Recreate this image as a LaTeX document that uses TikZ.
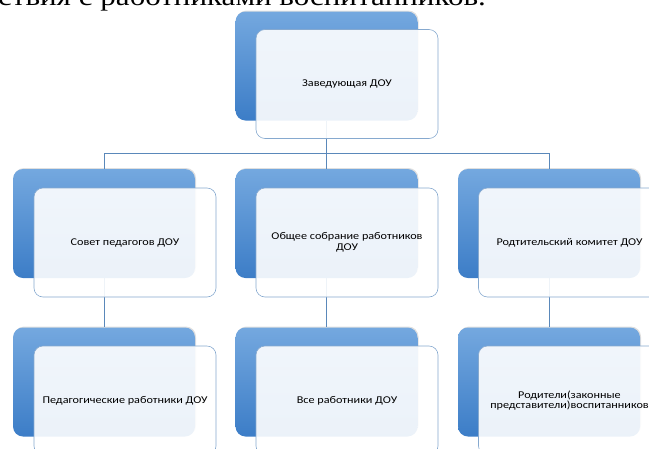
\documentclass[tikz,border=0pt]{standalone}
\usepackage{fontspec}
\setmainfont{Carlito}
\newfontfamily\boxfont[FakeStretch=1.17]{Carlito}
\newfontfamily\headfont[FakeStretch=1.17]{Liberation Serif}
\usepackage{tikz}
\usetikzlibrary{shapes,shadows}
\definecolor{boxtop}{HTML}{74A8DF}
\definecolor{boxbottom}{HTML}{3C7DC7}
\definecolor{cardline}{HTML}{86A9CF}
\definecolor{linkcolor}{HTML}{5A88BA}
\tikzstyle{box_back} = [rectangle, rounded corners=10pt, top color=boxtop, bottom color=boxbottom, draw=none, minimum width=182pt, minimum height=109pt, drop shadow={opacity=0.25, shadow xshift=1pt, shadow yshift=1pt}]
\tikzstyle{box_front} = [rectangle, rounded corners=9pt, fill=white, fill opacity=0.9, text opacity=1, draw=cardline, line width=0.6pt, minimum width=182pt, minimum height=109pt, align=center, font=\boxfont\fontsize{10.4}{10.5}\selectfont]
\tikzstyle{edge_link} = [draw=linkcolor, line width=0.7pt]

\begin{document}
\begin{tikzpicture}[x=1pt, y=-1pt]
		\useasboundingbox (0,0) rectangle (649,448);
		\node (heading) at (-2,5) [anchor=base west, inner sep=0pt, font=\headfont\fontsize{26.5}{30}\selectfont] {ствия с работниками воспитанников.};
		
		\node (zav) at (326.5,66) [box_back] {};
		\node (sovet) at (104,223.5) [box_back] {};
		\node (sobr) at (326.5,223.5) [box_back] {};
		\node (komitet) at (549,223.5) [box_back] {};
		\node (pedrab) at (104,382) [box_back] {};
		\node (vserab) at (326.5,382) [box_back] {};
		\node (roditeli) at (549,382) [box_back] {};
		
		\coordinate (bus) at (326.5,153.5);
		\draw[edge_link] (zav.south) -- (bus);
		\draw[edge_link] (sovet.north) |- (bus) -| (komitet.north);
		\draw[edge_link] (sobr.north) -- (bus);
		\draw[edge_link] (sovet.south) -- (pedrab.north);
		\draw[edge_link] (sobr.south) -- (vserab.north);
		\draw[edge_link] (komitet.south) -- (roditeli.north);
		
		\node (zavT) at (347,84) [box_front] {Заведующая ДОУ};
		\node (sovetT) at (125,242.5) [box_front] {Совет педагогов ДОУ};
		\node (sobrT) at (347,242.5) [box_front] {Общее собрание работников\\ДОУ};
		\node (komitetT) at (569.5,242.5) [box_front] {Родтительский комитет ДОУ};
		\node (pedrabT) at (125,400.5) [box_front] {Педагогические работники ДОУ};
		\node (vserabT) at (347,400.5) [box_front] {Все работники ДОУ};
		\node (roditeliT) at (569.5,400.5) [box_front] {Родители(законные\\представители)воспитанников};
		\end{tikzpicture}
\end{document}
